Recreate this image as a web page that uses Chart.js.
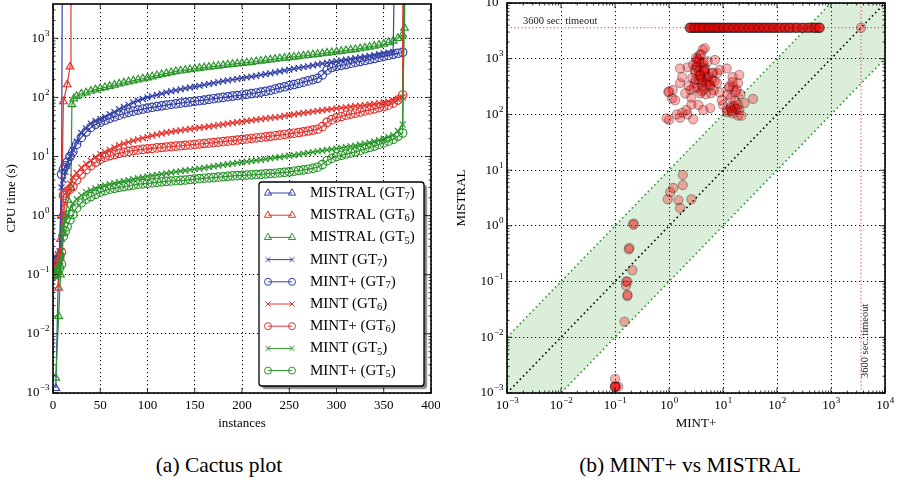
<!DOCTYPE html>
<html lang="en">
<head>
<meta charset="UTF-8">
<title>Cactus plot / MINT+ vs MISTRAL</title>
<script src="https://cdn.jsdelivr.net/npm/chart.js"></script>
<style>
  html, body { margin: 0; padding: 0; background: #fff; }
  #wrap { position: relative; width: 897px; height: 484px; overflow: hidden; font-family: "Liberation Serif", "Times New Roman", serif; }
  #cactus { position: absolute; left: 0; top: 0; }
  #scatter { position: absolute; left: 440px; top: 0; }
  .caption { position: absolute; top: 451px; font-size: 21.5px; line-height: 28px; color: #000; text-align: center; white-space: nowrap; }
  #capA { left: 69px; width: 300px; }
  #capB { left: 540px; width: 300px; }
</style>
</head>
<body>
<div id="wrap">
  <canvas id="cactus" width="440" height="440"></canvas>
  <canvas id="scatter" width="457" height="440"></canvas>
  <div class="caption" id="capA">(a) Cactus plot</div>
  <div class="caption" id="capB">(b) MINT+ vs MISTRAL</div>
</div>
<script>
const SERIF = '"Liberation Serif", "Times New Roman", serif';
Chart.defaults.font.family = SERIF;
Chart.defaults.color = '#000';

// unsolved instances are put above the top of the plot (vertical line up)
const TIMEOUT = 1e5;
const timeoutSec = 3600;

// ---------- (a) cactus plot data ----------
const mistralGT7Inst = [3, 6, 9, 10];
const mistralGT7Time = [0.0012, 0.17, 1.0, TIMEOUT];

const mistralGT6Inst = [6, 8, 9, 11, 15, 18, 19];
const mistralGT6Time = [0.06, 0.4, 1.0, 85, 165, 330, TIMEOUT];

const mistralGT5Inst = [3, 6, 8, 10, 13, 16, 19, 20, 22, 25, 30, 35, 40, 45, 50,
  55, 60, 65, 70, 75, 80, 85, 90, 95, 100, 105, 110, 115, 120, 125, 130, 135, 140, 145, 150,
  155, 160, 165, 170, 175, 180, 185, 190, 195, 200, 205, 210, 215, 220, 225, 230, 235, 240, 245, 250,
  255, 260, 265, 270, 275, 280, 285, 290, 295, 300, 305, 310, 315, 320, 325, 330, 335, 340, 345, 350,
  355, 360, 365, 370, 372, 373];
const mistralGT5Time = [0.0018, 0.02, 0.1, 0.5, 1.0, 1.8, 3.0, 76, 95, 105, 115, 120, 128, 135, 142,
  148, 155, 162, 170, 177, 185, 192, 200, 207, 215, 225, 235, 245, 255, 265, 275, 282, 290, 297, 305,
  312, 320, 327, 335, 342, 350, 357, 365, 372, 380, 387, 395, 405, 415, 425, 435, 445, 455, 465, 475,
  485, 495, 505, 515, 527, 540, 552, 565, 577, 590, 605, 620, 635, 650, 670, 690, 715, 740, 770, 800,
  850, 900, 1000, 1150, 1500, TIMEOUT];

// MINT / MINT+ runs share one instance grid
const mintInst = [1, 3, 5, 7, 9, 11, 13, 15, 18, 21, 25, 30, 35, 40, 45, 50,
  55, 60, 65, 70, 75, 80, 85, 90, 95, 100, 105, 110, 115, 120, 125, 130, 135, 140, 145, 150,
  155, 160, 165, 170, 175, 180, 185, 190, 195, 200, 205, 210, 215, 220, 225, 230, 235, 240, 245, 250,
  255, 260, 265, 270, 275, 280, 285, 290, 295, 300, 305, 310, 315, 320, 325, 330, 335, 340, 345, 350,
  355, 360, 365, 370];

const mintGT7Time = [0.12, 0.2, 0.22, 0.25, 3.0, 4.0, 5.5, 7.0, 10, 13, 18, 25, 30, 36, 40, 43,
  47, 52, 57, 63, 69, 75, 82, 88, 94, 100, 105, 110, 116, 122, 127, 132, 137, 142, 147, 152,
  157, 163, 169, 175, 181, 188, 194, 200, 206, 212, 218, 225, 232, 240, 247, 255, 265, 275, 285, 295,
  305, 315, 325, 335, 347, 360, 372, 385, 397, 410, 422, 435, 447, 460, 475, 490, 505, 520, 537, 555,
  572, 590];
const mintGT7Solved = 362;

const mintPlusGT7Time = [0.1, 0.15, 0.18, 0.2, 5.0, 6.0, 7.0, 8.0, 10, 12, 16, 21, 26, 31, 35, 38,
  41, 44, 47, 50, 53, 56, 58.5, 61, 63.5, 66, 68, 70, 72, 74, 76, 78, 80, 82, 84, 86,
  88, 90, 92.5, 95, 97.5, 100, 102.5, 105, 107.5, 110, 113, 116, 119, 123, 127, 132, 138, 145, 151, 158,
  165, 172, 181, 190, 200, 210, 240, 290, 320, 335, 348, 360, 375, 390, 405, 420, 437, 455, 475, 495,
  515, 535, 557, 580];
const mintPlusGT7Solved = 373;

const mintGT6Time = [0.1, 0.14, 0.18, 0.22, 0.25, 1.1, 1.6, 2.5, 3.5, 4.5, 5.3, 6.5, 7.5, 8.5, 9.8, 11,
  12, 13, 14.2, 15.5, 16.5, 17.5, 18.5, 19.5, 20.5, 21.5, 22.5, 23.5, 24.5, 25.5, 26.2, 27, 27.7, 28.5, 29.2, 30,
  30.7, 31.5, 32.2, 33, 34, 35, 36, 37, 38, 39, 40, 41, 42, 43, 44, 45, 46, 47, 48.5, 50,
  51.5, 53, 54.5, 56, 57.5, 59, 60.5, 62, 63.5, 65, 66.5, 68, 69.5, 71, 72.5, 74, 76, 78, 80, 82,
  85, 88, 93, 100];
const mintGT6Solved = 371;

const mintPlusGT6Time = [0.1, 0.12, 0.15, 0.2, 0.24, 2.2, 2.4, 2.6, 2.8, 3.1, 4.0, 5.0, 6.0, 7.0, 8.0, 9.0,
  9.7, 10.3, 10.8, 11.3, 11.8, 12.2, 12.6, 12.9, 13.2, 13.5, 13.7, 14, 14.2, 14.5, 14.7, 15, 15.2, 15.5, 15.7, 16,
  16.3, 16.6, 16.9, 17.2, 17.5, 17.9, 18.2, 18.6, 19, 19.4, 19.8, 20.2, 20.6, 21, 21.5, 22, 22.5, 23, 23.6, 24.2,
  24.8, 25.5, 26.2, 27, 28, 29, 32, 38, 42, 45, 47.5, 50, 52, 54, 56.5, 59, 61.5, 64, 67, 70,
  74, 80, 90, 110];
const mintPlusGT6Solved = 371;

const mintGT5Time = [0.1, 0.12, 0.13, 0.15, 0.2, 0.6, 0.8, 1.0, 1.3, 1.6, 1.9, 2.2, 2.5, 2.7, 2.9, 3.1,
  3.25, 3.4, 3.55, 3.7, 3.85, 4.0, 4.15, 4.3, 4.45, 4.6, 4.75, 4.9, 5.05, 5.2, 5.35, 5.5, 5.65, 5.8, 5.95, 6.1,
  6.25, 6.4, 6.6, 6.8, 7.0, 7.2, 7.4, 7.6, 7.8, 8.0, 8.2, 8.4, 8.6, 8.8, 9.05, 9.3, 9.55, 9.8, 10.05, 10.3,
  10.6, 10.9, 11.2, 11.5, 11.85, 12.2, 12.55, 12.9, 13.25, 13.6, 14, 14.4, 14.85, 15.3, 15.9, 16.5, 17.2, 18, 19, 20,
  21.5, 23, 27, 35];
const mintGT5Solved = 373;

const mintPlusGT5Time = [0.1, 0.1, 0.11, 0.13, 0.15, 0.45, 0.55, 0.65, 0.85, 1.05, 1.35, 1.65, 1.9, 2.1, 2.3, 2.5,
  2.65, 2.8, 2.9, 3.0, 3.1, 3.2, 3.3, 3.4, 3.45, 3.5, 3.58, 3.65, 3.72, 3.8, 3.85, 3.9, 3.95, 4.0, 4.08, 4.15,
  4.22, 4.3, 4.35, 4.4, 4.48, 4.55, 4.62, 4.7, 4.75, 4.8, 4.85, 4.9, 4.95, 5.0, 5.08, 5.15, 5.22, 5.3, 5.4, 5.5,
  5.65, 5.8, 5.95, 6.1, 6.3, 6.6, 7.3, 8.5, 9.3, 10, 10.5, 11, 11.5, 12, 12.7, 13.5, 14.2, 15, 16, 17,
  18.2, 19.5, 22, 25];
const mintPlusGT5Solved = 373;

const cactusXTicks = [0, 50, 100, 150, 200, 250, 300, 350, 400];

// ---------- (b) MINT+ vs MISTRAL data ----------
// MINT+ times of the instances where MISTRAL hit the 3600 s timeout
const timeoutRowMintPlus = [
  2.4, 2.6, 2.9, 3.2, 3.5, 3.9, 4.3, 4.8, 5.3, 5.9, 6.5, 7.2, 8.0, 9.0, 10, 11.5, 13, 15, 17, 19,
  22, 25, 29, 33, 38, 44, 50, 58, 67, 78, 90, 105, 125, 150, 180, 215, 260, 320, 400, 480, 560, 620,
  2.5, 2.75, 3.05, 3.35, 3.7, 4.1, 4.55, 5.1, 5.6, 6.2, 6.9, 7.6, 8.5, 9.5, 10.7, 12.2, 14, 16, 18, 20.5,
  23.5, 27, 31, 35.5, 41, 47, 54, 62, 72, 84, 97, 115, 137, 165, 197, 235, 290, 360, 440, 520, 600,
  2.45, 3.0, 3.6, 4.4, 5.5, 6.8, 8.3, 10.3, 12.6, 15.6, 19.5, 24, 30, 37, 46, 57, 70, 86, 110, 140, 170, 230, 300, 380, 500, 610,
  3600
];
const mintPlusTime = [
  4.6, 4.2, 3.7, 3.5, 3.2, 2.8, 3.0, 4.0, 4.5, 5.2, 7.1, 2.2, 1.6, 6.3, 7.8, 5.0, 4.1, 5.5, 4.6, 3.8,
  8.7, 11.7, 3.0, 2.5, 2.0, 1.17, 1.14, 1.3, 1.6, 1.75, 7.8, 8.7, 6.7, 15, 15.5, 19, 20, 18, 12,
  13.5, 16.6, 20, 11.7, 19, 22, 36, 10, 5.8, 4.3, 3.5, 1.75, 2.2, 2.8, 1.6, 1.0, 0.97, 3.4, 4.0, 3.1,
  3.6, 5.8, 6.2, 14, 17, 21, 25, 13, 4.8, 2.3, 2.6, 9.5, 12, 15, 3.3, 4.4, 3.9, 4.9, 3.6,
  3.4, 3.9, 4.3, 4.7, 5.3, 3.1, 3.6, 4.1, 2.9, 3.3, 4.5, 5.0, 3.8, 4.2, 2.7, 3.2, 3.7, 4.4, 5.6, 6.5,
  14, 16, 18, 13, 15, 17, 19, 14.5, 0.9, 1.0, 1.4, 2.1, 2.6, 7.0, 6.0,
  1.8, 1.8, 1.2, 1.05, 0.95, 1.5, 2.6, 1.6, 0.22, 0.22, 0.185, 0.18, 0.21, 0.16, 0.17, 0.16, 0.17, 0.17,
  0.15, 0.1, 0.1, 0.105, 0.1, 0.115, 0.1
];
const mistralTime = [
  1550, 1450, 1170, 950, 1050, 780, 630, 820, 700, 900, 950, 700, 670, 550, 550, 470, 415, 380, 560, 520,
  630, 670, 365, 275, 240, 275, 195, 180, 365, 470, 365, 250, 275, 470, 310, 365, 510, 275, 225,
  135, 130, 120, 120, 95, 95, 190, 148, 130, 120, 148, 107, 100, 82, 87, 80, 250, 300, 260, 420,
  600, 320, 420, 200, 180, 230, 160, 320, 230, 330, 200, 180, 110, 105, 750, 620, 480, 390, 860,
  1000, 1200, 850, 650, 480, 560, 420, 380, 300, 700, 600, 350, 240, 320, 450, 880, 500, 280, 340, 560,
  130, 140, 125, 300, 380, 250, 150, 115, 85, 260, 100, 120, 150, 400, 240,
  8.2, 5.4, 4.8, 4.0, 3.0, 2.9, 3.0, 2.1, 1.1, 1.05, 0.4, 0.38, 0.16, 0.1, 0.1, 0.085, 0.055, 0.058,
  0.019, 0.0018, 0.0013, 0.0013, 0.00132, 0.0013, 0.00128
];

// ---------- helpers ----------
const BLUE = '#3442a6', RED = '#e3342f', GREEN = '#2b962b';

function pairs(xs, ys) { return xs.map((x, i) => ({ x: x, y: ys[i] })); }
function mintRun(times, solved) {
  const p = times.map((t, i) => ({ x: mintInst[i], y: t }));
  p.push({ x: solved, y: TIMEOUT });
  return p;
}
function decades(lo, hi) { const a = []; for (let e = lo; e <= hi; e++) a.push(Math.pow(10, e)); return a; }
function logMinors(lo, hi) {
  const out = [];
  for (let e = Math.floor(Math.log10(lo)); e <= Math.ceil(Math.log10(hi)); e++) {
    for (let m = 2; m <= 9; m++) { const v = m * Math.pow(10, e); if (v > lo && v < hi) out.push(v); }
  }
  return out;
}

// "10" with a raised exponent
function powLabel(ctx, x, y, v, align) {
  const e = Math.round(Math.log10(v));
  const ex = e < 0 ? '\u2212' + (-e) : String(e);
  ctx.font = '13px ' + SERIF;
  const wb = ctx.measureText('10').width;
  ctx.font = '9px ' + SERIF;
  const we = ctx.measureText(ex).width;
  const x0 = align === 'right' ? x - wb - we : x - (wb + we) / 2;
  ctx.textAlign = 'left';
  ctx.textBaseline = 'middle';
  ctx.font = '13px ' + SERIF;
  ctx.fillText('10', x0, y);
  ctx.font = '9px ' + SERIF;
  ctx.fillText(ex, x0 + wb + 0.5, y - 5);
}
function plainLabel(ctx, x, y, v) {
  ctx.font = '13px ' + SERIF;
  ctx.textAlign = 'center';
  ctx.textBaseline = 'middle';
  ctx.fillText(String(v), x, y);
}

// box round the axes, inward ticks on all four sides, tick labels
function axesFrame(cfg) {
  return {
    id: 'axesFrame',
    afterDatasetsDraw(chart) {
      const { ctx, chartArea: a } = chart;
      const sx = chart.scales.x, sy = chart.scales.y;
      ctx.save();
      ctx.strokeStyle = '#000';
      ctx.lineWidth = 0.8;
      ctx.beginPath();
      const vTick = (v, len) => { const p = sx.getPixelForValue(v); ctx.moveTo(p, a.bottom); ctx.lineTo(p, a.bottom - len); ctx.moveTo(p, a.top); ctx.lineTo(p, a.top + len); };
      const hTick = (v, len) => { const p = sy.getPixelForValue(v); ctx.moveTo(a.left, p); ctx.lineTo(a.left + len, p); ctx.moveTo(a.right, p); ctx.lineTo(a.right - len, p); };
      cfg.xMajor.forEach(v => vTick(v, 5));
      cfg.xMinor.forEach(v => vTick(v, 2.5));
      cfg.yMajor.forEach(v => hTick(v, 5));
      cfg.yMinor.forEach(v => hTick(v, 2.5));
      ctx.stroke();
      ctx.lineWidth = 1.6;
      ctx.strokeRect(a.left, a.top, a.right - a.left, a.bottom - a.top);
      ctx.fillStyle = '#000';
      cfg.xMajor.forEach(v => cfg.xLabel(ctx, sx.getPixelForValue(v), a.bottom + 13, v, 'center'));
      cfg.yMajor.forEach(v => cfg.yLabel(ctx, a.left - 4, sy.getPixelForValue(v), v, 'right'));
      ctx.restore();
    }
  };
}

function gridOpts() {
  return { color: '#000', lineWidth: 1, drawTicks: false };
}
function borderOpts() {
  return { display: false, dash: [1.2, 2.8] };
}

// ---------- (a) cactus plot ----------
const cactusSeries = [
  { label: 'MISTRAL (GT7)', color: BLUE, marker: 'triangle', data: pairs(mistralGT7Inst, mistralGT7Time) },
  { label: 'MISTRAL (GT6)', color: RED, marker: 'triangle', data: pairs(mistralGT6Inst, mistralGT6Time) },
  { label: 'MISTRAL (GT5)', color: GREEN, marker: 'triangle', data: pairs(mistralGT5Inst, mistralGT5Time) },
  { label: 'MINT (GT7)', color: BLUE, marker: 'crossRot', data: mintRun(mintGT7Time, mintGT7Solved) },
  { label: 'MINT+ (GT7)', color: BLUE, marker: 'circle', data: mintRun(mintPlusGT7Time, mintPlusGT7Solved) },
  { label: 'MINT (GT6)', color: RED, marker: 'crossRot', data: mintRun(mintGT6Time, mintGT6Solved) },
  { label: 'MINT+ (GT6)', color: RED, marker: 'circle', data: mintRun(mintPlusGT6Time, mintPlusGT6Solved) },
  { label: 'MINT (GT5)', color: GREEN, marker: 'crossRot', data: mintRun(mintGT5Time, mintGT5Solved) },
  { label: 'MINT+ (GT5)', color: GREEN, marker: 'circle', data: mintRun(mintPlusGT5Time, mintPlusGT5Solved) }
];
const markerRadius = { triangle: 4.4, crossRot: 4.2, circle: 4.2 };

function roundRect(ctx, x, y, w, h, r) {
  ctx.beginPath();
  ctx.moveTo(x + r, y);
  ctx.lineTo(x + w - r, y); ctx.arcTo(x + w, y, x + w, y + r, r);
  ctx.lineTo(x + w, y + h - r); ctx.arcTo(x + w, y + h, x + w - r, y + h, r);
  ctx.lineTo(x + r, y + h); ctx.arcTo(x, y + h, x, y + h - r, r);
  ctx.lineTo(x, y + r); ctx.arcTo(x, y, x + r, y, r);
  ctx.closePath();
}

const cactusLegend = {
  id: 'cactusLegend',
  afterDraw(chart) {
    const { ctx, chartArea: a } = chart;
    const w = 165, h = 204;
    const bx = a.right - 7 - w, by = a.bottom - 7 - h;
    ctx.save();
    ctx.shadowColor = 'rgba(0,0,0,0.5)';
    ctx.shadowOffsetX = 3; ctx.shadowOffsetY = 3; ctx.shadowBlur = 1.5;
    roundRect(ctx, bx, by, w, h, 3);
    ctx.fillStyle = '#fff';
    ctx.fill();
    ctx.shadowColor = 'rgba(0,0,0,0)';
    ctx.lineWidth = 1.3;
    ctx.strokeStyle = '#000';
    ctx.stroke();
    cactusSeries.forEach((s, i) => {
      const y = by + 11 + i * 22.2;
      ctx.strokeStyle = s.color;
      ctx.fillStyle = 'rgba(0,0,0,0)';
      ctx.lineWidth = 1;
      ctx.beginPath(); ctx.moveTo(bx + 9, y); ctx.lineTo(bx + 33, y); ctx.stroke();
      [bx + 9, bx + 33].forEach(x => {
        Chart.helpers.drawPoint(ctx, { pointStyle: s.marker, radius: s.marker === 'triangle' ? 4.2 : 3.5, rotation: 0, borderWidth: 1 }, x, y);
      });
      // label with subscript digit
      const m = s.label.match(/^(.*GT)(\d)\)$/);
      ctx.fillStyle = '#000';
      ctx.textAlign = 'left';
      ctx.textBaseline = 'middle';
      ctx.font = '15px ' + SERIF;
      let x = bx + 51;
      ctx.fillText(m[1], x, y);
      x += ctx.measureText(m[1]).width;
      ctx.font = '10.5px ' + SERIF;
      ctx.fillText(m[2], x, y + 3.5);
      x += ctx.measureText(m[2]).width;
      ctx.font = '15px ' + SERIF;
      ctx.fillText(')', x, y);
    });
    ctx.restore();
  }
};

new Chart(document.getElementById('cactus'), {
  type: 'scatter',
  data: {
    datasets: cactusSeries.map((s, i) => ({
      label: s.label,
      data: s.data,
      showLine: true,
      borderColor: s.color,
      borderWidth: 1.2,
      pointStyle: s.marker,
      pointRadius: markerRadius[s.marker],
      pointBorderColor: s.color,
      pointBackgroundColor: 'rgba(0,0,0,0)',
      pointBorderWidth: 1.2,
      order: -i
    }))
  },
  options: {
    responsive: false,
    animation: false,
    devicePixelRatio: 1,
    layout: { padding: { top: 4, right: 9, left: 0, bottom: 0 }, autoPadding: false },
    plugins: { legend: { display: false }, tooltip: { enabled: false } },
    scales: {
      x: {
        type: 'linear', min: 0, max: 400,
        ticks: { display: false, stepSize: 50 },
        grid: gridOpts(), border: borderOpts(),
        title: { display: true, text: 'instances', font: { size: 13, family: SERIF }, padding: { top: 0, bottom: 9 } },
        afterFit: s => { s.height = 47; }
      },
      y: {
        type: 'logarithmic', min: 0.001, max: 3800,
        ticks: { display: false },
        afterBuildTicks: s => { s.ticks = decades(-3, 3).map(v => ({ value: v })); },
        grid: gridOpts(), border: borderOpts(),
        title: { display: true, text: 'CPU time (s)', font: { size: 13, family: SERIF }, padding: { top: 4, bottom: 0 } },
        afterFit: s => { s.width = 53; }
      }
    }
  },
  plugins: [
    axesFrame({ xMajor: cactusXTicks, xMinor: [], yMajor: decades(-3, 3), yMinor: logMinors(0.001, 3800),
      xLabel: plainLabel, yLabel: powLabel }),
    cactusLegend
  ]
});

// ---------- (b) MINT+ vs MISTRAL ----------
const refX = [1e-3, 1e4];
const timeoutText = {
  id: 'timeoutText',
  afterDatasetsDraw(chart) {
    const { ctx, chartArea: a } = chart;
    const sx = chart.scales.x, sy = chart.scales.y;
    ctx.save();
    ctx.fillStyle = '#222';
    ctx.font = '10.5px ' + SERIF;
    ctx.textAlign = 'left';
    ctx.textBaseline = 'alphabetic';
    ctx.fillText('3600 sec. timeout', a.left + 16, sy.getPixelForValue(timeoutSec) - 4);
    ctx.translate(sx.getPixelForValue(timeoutSec) + 4.5, a.bottom - 15);
    ctx.rotate(-Math.PI / 2);
    ctx.textBaseline = 'middle';
    ctx.fillText('3600 sec. timeout', 0, 0);
    ctx.restore();
  }
};

const refLine = (color, ys) => ({
  data: refX.map((x, i) => ({ x: x, y: ys[i] })),
  showLine: true, borderColor: color, borderWidth: 1.6, borderDash: [1.6, 3],
  pointRadius: 0, fill: false, order: 1
});

const bandUpper = refLine('#2a9a2a', refX.map(x => x * 10));
bandUpper.fill = '+1';
bandUpper.backgroundColor = 'rgba(70,170,70,0.2)';
const bandLower = refLine('#2a9a2a', refX.map(x => x / 10));
const diagonal = refLine('#000', refX.slice());
const timeoutH = {
  data: refX.map(x => ({ x: x, y: timeoutSec })),
  showLine: true, borderColor: '#ff2a2a', borderWidth: 1, borderDash: [1.2, 2.4], pointRadius: 0, order: 1
};
const timeoutV = {
  data: refX.map(y => ({ x: timeoutSec, y: y })),
  showLine: true, borderColor: '#ff2a2a', borderWidth: 1, borderDash: [1.2, 2.4], pointRadius: 0, order: 1
};
const runs = {
  data: timeoutRowMintPlus.map(x => ({ x: x, y: timeoutSec })).concat(pairs(mintPlusTime, mistralTime)),
  pointRadius: 4.6,
  pointBackgroundColor: 'rgba(255,0,0,0.3)',
  pointBorderColor: 'rgba(0,0,0,0.3)',
  pointBorderWidth: 1.2,
  order: -1
};

new Chart(document.getElementById('scatter'), {
  type: 'scatter',
  data: { datasets: [bandUpper, bandLower, diagonal, timeoutH, timeoutV, runs] },
  options: {
    responsive: false,
    animation: false,
    devicePixelRatio: 1,
    layout: { padding: { top: 3, right: 12, left: 0, bottom: 0 }, autoPadding: false },
    plugins: { legend: { display: false }, tooltip: { enabled: false }, filler: { drawTime: 'beforeDatasetsDraw' } },
    scales: {
      x: {
        type: 'logarithmic', min: 1e-3, max: 1e4,
        ticks: { display: false },
        afterBuildTicks: s => { s.ticks = decades(-3, 4).map(v => ({ value: v })); },
        grid: gridOpts(), border: borderOpts(),
        title: { display: true, text: 'MINT+', font: { size: 13, family: SERIF }, padding: { top: 0, bottom: 9 } },
        afterFit: s => { s.height = 47; }
      },
      y: {
        type: 'logarithmic', min: 1e-3, max: 1e4,
        ticks: { display: false },
        afterBuildTicks: s => { s.ticks = decades(-3, 4).map(v => ({ value: v })); },
        grid: gridOpts(), border: borderOpts(),
        title: { display: true, text: 'MISTRAL', font: { size: 13, family: SERIF }, padding: { top: 14, bottom: 0 } },
        afterFit: s => { s.width = 67; }
      }
    }
  },
  plugins: [
    axesFrame({ xMajor: decades(-3, 4), xMinor: logMinors(1e-3, 1e4), yMajor: decades(-3, 4), yMinor: logMinors(1e-3, 1e4),
      xLabel: powLabel, yLabel: powLabel }),
    timeoutText
  ]
});
</script>
</body>
</html>
